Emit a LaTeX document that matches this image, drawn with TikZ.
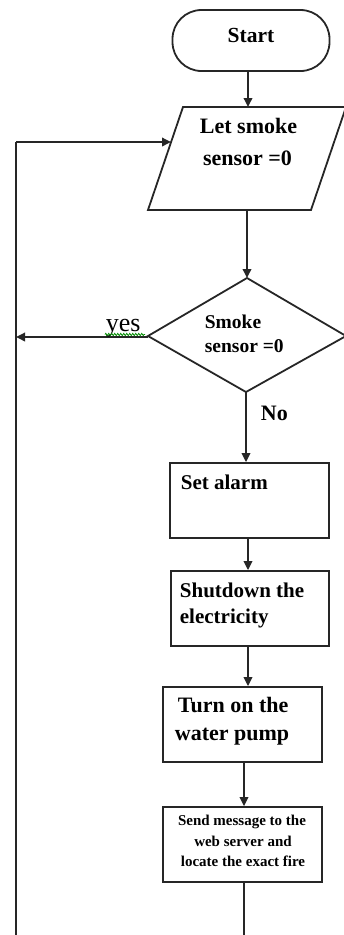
\documentclass[tikz,border=0pt]{standalone}
\usepackage{fontspec}
\setmainfont{Liberation Serif}
\usetikzlibrary{arrows.meta,decorations.pathmorphing}
\begin{document}
\begin{tikzpicture}[x=1pt,y=-1pt,
  line width=1.8pt,
  ln/.style={draw=black!85, line width=1.8pt},
  arr/.style={ln, -{Triangle[length=9pt,width=8.5pt]}},
  box/.style={ln, rectangle, inner sep=0pt},
  txt/.style={inner sep=0pt, anchor=base west, font=\bfseries\fontsize{21}{26}\selectfont},
  ctxt/.style={inner sep=0pt, anchor=base, font=\bfseries\fontsize{22}{26}\selectfont}]
\useasboundingbox (0,0) rectangle (343,935);

% Start
\node[box, rounded corners=29pt, minimum width=157pt, minimum height=61pt] (start) at (251,40.5) {};
\node[ctxt, font=\bfseries\fontsize{21.5}{26}\selectfont] (tstart) at (251,42) {Start};

% parallelogram
\coordinate (ptl) at (183,107);
\coordinate (ptr) at (346,107);
\coordinate (pbr) at (311,210);
\coordinate (pbl) at (148,210);
\draw[ln, line join=miter] (ptl) -- (ptr) -- (pbr) -- (pbl) -- cycle;
\coordinate (ptop) at (248,107);
\coordinate (pbot) at (247,210);
\coordinate (pleft) at (171,142);
\node[ctxt] (tp1) at (248.5,133) {Let smoke};
\node[ctxt] (tp2) at (247.5,165) {sensor =0};

% decision
\coordinate (dt) at (247,278);
\coordinate (dl) at (148,336);
\coordinate (db) at (246,392);
\coordinate (dr) at (346,336);
\draw[ln, line join=miter] (dt) -- (dr) -- (db) -- (dl) -- cycle;
\node[txt, font=\bfseries\fontsize{19.5}{24}\selectfont] (td1) at (204,328) {Smoke};
\node[txt, font=\bfseries\fontsize{19.5}{24}\selectfont] (td2) at (204,352) {sensor =0};

% boxes
\node[box, minimum width=159pt, minimum height=75pt] (b1) at (249.5,500.5) {};
\node[txt] (tb1) at (180,489) {Set alarm};
\node[box, minimum width=158pt, minimum height=75pt] (b2) at (250,608.5) {};
\node[txt] (tb2a) at (179,597) {Shutdown the};
\node[txt] (tb2b) at (179,623) {electricity};
\node[box, minimum width=159pt, minimum height=75pt] (b3) at (242.5,724.5) {};
\node[txt, font=\bfseries\fontsize{22}{26}\selectfont] (tb3a) at (177,712) {Turn on the};
\node[txt, font=\bfseries\fontsize{22}{26}\selectfont] (tb3b) at (174,740) {water pump};
\node[box, minimum width=159pt, minimum height=75pt] (b4) at (242.5,844.5) {};
\node[ctxt, font=\bfseries\fontsize{15}{20}\selectfont] (tb4a) at (242,825) {Send message to the};
\node[ctxt, font=\bfseries\fontsize{15}{20}\selectfont] (tb4b) at (243,846) {web server and};
\node[ctxt, font=\bfseries\fontsize{15}{20}\selectfont] (tb4c) at (243,866) {locate the exact fire};

% x guides
\coordinate (xa) at (248,0);
\coordinate (xb) at (244,0);

% connectors
\draw[arr] (start.south -| ptop) -- (ptop);
\draw[arr] (pbot) -- (dt);
\draw[arr] (db) -- (b1.north -| db);
\draw[arr] (b1.south -| xa) -- (b2.north -| xa);
\draw[arr] (b2.south -| xa) -- (b3.north -| xa);
\draw[arr] (b3.south -| xb) -- (b4.north -| xb);
\coordinate (bend) at (244,935);
\draw[ln] (b4.south -| xb) -- (bend);

% loop back
\coordinate (lbot) at (16,935);
\coordinate (lyes) at (16,337);
\coordinate (ltop) at (16,142);
\draw[ln] (lbot) -- (ltop);
\draw[arr] (ltop) -- (pleft);
\draw[arr] (dl |- lyes) -- (lyes);

% labels
\node[inner sep=0pt, anchor=base west, font=\fontsize{26}{30}\selectfont] (yes) at (105,331) {yes};
\draw[green!55!black, line width=0.7pt, decorate, decoration={zigzag, amplitude=1.2pt, segment length=3pt}] (105,334.5) -- (145,334.5);
\node[txt, font=\bfseries\fontsize{22}{26}\selectfont] (no) at (260,420) {No};
\end{tikzpicture}
\end{document}
